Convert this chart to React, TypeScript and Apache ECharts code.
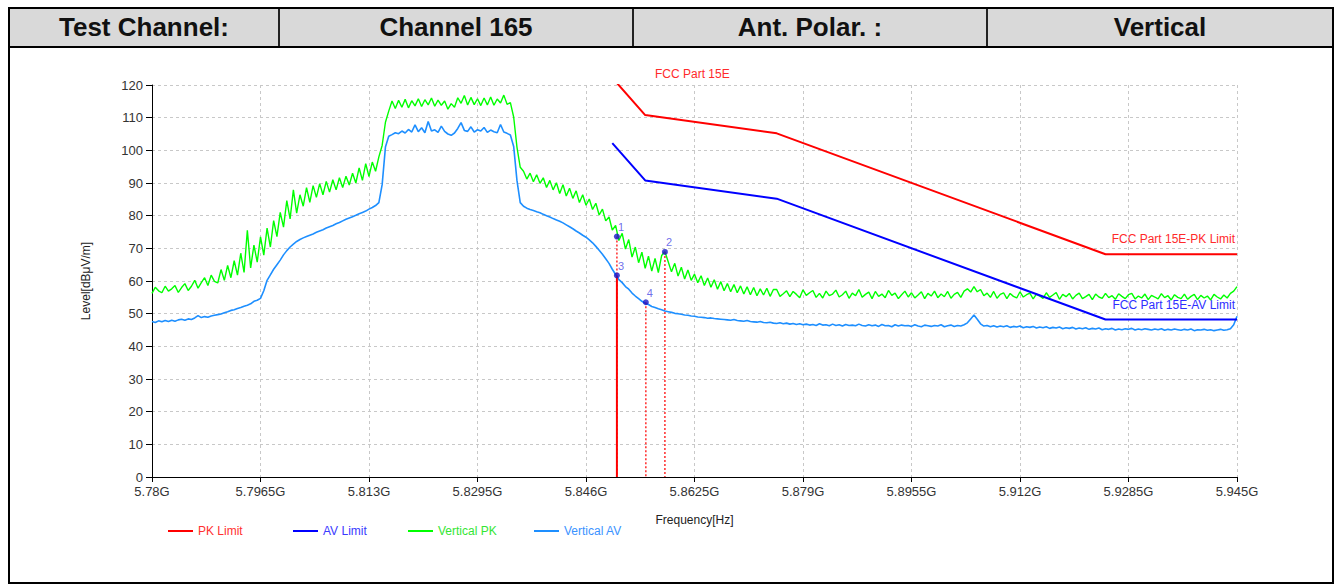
import React, { useEffect, useRef } from "react";
import * as echarts from "echarts";

const headerCells = ["Test Channel:", "Channel 165", "Ant. Polar. :", "Vertical"];
const headerWidths = [268, 354, 354, 346];

const xTickLabels = ["5.78G", "5.7965G", "5.813G", "5.8295G", "5.846G", "5.8625G", "5.879G", "5.8955G", "5.912G", "5.9285G", "5.945G"];
const axisStartGHz = 5.78;
const traceStepMHz = 0.5;

const verticalPK = [
  56.2, 58.1, 57.0, 56.4, 58.4, 56.9, 57.6, 58.6, 56.5, 58.0,
  59.2, 57.1, 58.4, 60.2, 57.8, 59.5, 61.0, 58.6, 61.8, 59.9,
  59.4, 63.5, 60.2, 64.8, 61.0, 66.2, 61.8, 68.5, 62.6, 75.5,
  64.0, 71.0, 65.8, 73.5, 67.9, 76.2, 70.4, 78.5, 73.6, 81.0,
  76.5, 84.6, 79.0, 87.9, 80.8, 86.4, 82.9, 88.6, 84.1, 89.2,
  85.6, 89.8, 86.4, 90.5, 87.2, 91.0, 87.9, 91.6, 88.6, 92.1,
  89.4, 93.0, 90.0, 94.6, 90.8, 95.9, 92.0, 96.4, 93.6, 98.0,
  101.5, 108.6, 112.0, 115.1, 112.8, 115.3, 113.2, 115.6, 113.0, 115.2,
  113.6, 115.8, 113.4, 115.5, 113.9, 116.0, 113.5, 115.4, 113.8, 115.1,
  112.6, 114.3, 113.2, 116.1, 114.4, 116.8, 113.9, 116.2, 114.0, 115.8,
  113.7, 116.0, 113.9, 116.3, 113.8, 115.7, 114.5, 116.9, 114.1, 114.6,
  110.2, 101.0, 94.8, 93.6, 91.2, 93.0, 90.4, 92.5, 89.9, 91.6,
  88.6, 90.8, 87.9, 90.1, 86.8, 89.5, 86.0, 88.4, 85.3, 87.6,
  84.0, 86.4, 83.2, 85.1, 81.9, 83.8, 80.2, 82.0, 78.4, 79.6,
  75.6, 77.0, 72.4, 74.6, 69.8, 72.7, 67.3, 70.4, 65.6, 68.8,
  63.9, 67.6, 63.0, 66.9, 62.6, 67.8, 69.0, 65.9, 62.8, 65.4,
  61.5, 64.2, 60.6, 63.4, 60.2, 62.1, 59.5, 61.6, 58.6, 60.9,
  58.1, 60.4, 57.5, 59.8, 57.0, 59.2, 56.7, 58.9, 56.4, 58.5,
  56.0, 58.2, 55.8, 58.0, 55.5, 57.6, 55.7, 57.8, 55.3, 57.4,
  57.4, 55.3, 56.1, 57.0, 55.2, 56.8, 55.9, 54.9, 57.3, 55.6,
  56.4, 57.1, 55.0, 56.2, 54.8, 56.9, 55.5, 56.0, 57.2, 55.1,
  55.8, 56.9, 54.7, 56.3, 55.5, 57.4, 55.0, 55.9, 56.6, 54.6,
  56.8, 55.3, 56.0, 54.9, 57.1, 55.6, 56.3, 54.6, 55.8, 56.9,
  55.1, 56.4, 54.8, 55.7, 56.7, 54.6, 56.2, 55.4, 56.9, 54.9,
  56.0, 55.2, 56.8, 54.7, 55.9, 56.5, 55.0, 56.9, 57.6, 56.6,
  58.3, 56.7, 57.4, 55.5, 56.3, 55.0, 56.8, 54.7, 55.9, 56.4,
  54.6, 56.2, 55.3, 54.8, 56.7, 55.1, 55.8, 56.3, 54.5, 56.0,
  55.4, 54.7, 56.4, 55.0, 55.7, 56.5, 54.4, 55.9, 55.2, 56.2,
  54.5, 55.6, 56.3, 54.6, 55.2, 55.9, 54.3, 56.0, 55.1, 54.7,
  56.2, 54.9, 55.5, 54.4, 56.1, 55.3, 54.6, 55.8, 56.2, 54.5,
  55.4, 54.8, 56.0, 54.3, 55.6, 55.1, 54.5, 56.1, 54.9, 55.5,
  54.2, 55.8, 55.0, 54.6, 56.0, 54.4, 55.3, 55.9, 54.3, 55.6,
  54.8, 55.4, 54.2, 55.9, 55.1, 54.5, 55.7, 54.8, 56.2, 56.9,
  58.3,
];

const verticalAV = [
  47.6, 47.3, 47.8, 47.5, 47.9, 47.6, 48.0, 47.7, 48.1, 48.3,
  48.0, 48.4, 48.2, 48.7, 49.4, 48.8, 49.1, 48.9, 49.3, 49.5,
  49.7, 49.9, 50.3, 50.6, 51.0, 51.2, 51.6, 51.9, 52.3, 52.6,
  53.0, 53.8, 54.1, 54.7, 57.0, 60.2, 61.9, 63.6, 65.0, 66.4,
  68.0, 69.3, 70.4, 71.3, 72.1, 72.7, 73.2, 73.6, 74.0, 74.4,
  74.9, 75.3, 75.7, 76.2, 76.6, 77.0, 77.5, 77.9, 78.4, 78.9,
  79.3, 79.7, 80.1, 80.6, 81.0, 81.4, 82.0, 82.5, 83.1, 84.0,
  89.5, 101.0, 104.3, 104.8, 105.4, 105.1, 105.9, 105.3, 106.4, 105.6,
  107.8, 105.7, 106.9, 105.4, 108.8, 105.9, 106.3, 105.5, 107.4, 105.8,
  105.0, 104.6, 105.3, 106.7, 108.5, 106.1, 105.8, 107.2, 105.6, 106.3,
  105.9, 107.0, 105.5, 106.2, 105.7, 105.4, 107.9, 105.6, 105.2, 104.7,
  101.2, 90.8, 84.0, 82.9, 82.3, 81.9, 81.6, 81.2, 80.9, 80.4,
  80.0, 79.6, 79.1, 78.7, 78.3, 77.8, 77.2, 76.6, 76.0, 75.3,
  74.7, 74.0, 73.4, 72.6, 71.7, 70.6, 69.4, 68.2, 66.8, 65.4,
  63.6, 62.0, 60.4, 59.5, 58.3, 57.5, 56.3, 55.4, 54.6, 53.8,
  53.2, 52.8, 52.2, 51.9, 51.5, 51.2, 50.8, 50.6, 50.4, 50.1,
  50.0, 49.8, 49.6, 49.5, 49.3, 49.2, 49.0, 48.9, 48.8, 48.6,
  48.7, 48.5, 48.4, 48.3, 48.2, 48.1, 48.0, 48.2, 47.9, 47.8,
  47.7, 47.9, 47.6, 47.5, 47.4, 47.6, 47.3, 47.2, 47.4, 47.1,
  47.0, 47.2, 46.9, 47.1, 46.8, 47.0, 46.7, 46.9, 46.6, 46.8,
  46.5, 46.7, 46.4, 46.9, 46.5, 46.6, 46.3, 46.8, 46.4, 46.6,
  46.2, 46.7, 46.4, 46.5, 46.3, 46.8, 46.4, 46.2, 46.6, 46.3,
  46.5, 46.1, 46.7, 46.3, 46.4, 46.0, 46.6, 46.2, 46.5, 46.3,
  46.4, 46.1, 46.6, 46.2, 46.0, 46.5, 46.3, 46.1, 46.4, 46.2,
  46.6, 46.0, 46.3, 46.5, 46.1, 46.4, 46.2, 46.6, 47.2, 48.4,
  49.6, 48.3, 46.9, 46.2, 46.4, 46.0, 46.3, 45.9, 46.2, 46.0,
  46.3, 45.8, 46.1, 45.9, 46.2, 45.7, 46.0, 45.8, 46.1, 45.6,
  45.9, 45.7, 46.0, 45.5, 45.8, 45.6, 45.9, 45.4, 45.7, 45.5,
  45.8, 45.3, 45.6, 45.4, 45.7, 45.2, 45.5, 45.3, 45.6, 45.1,
  45.4, 45.2, 45.5, 45.0, 45.3, 45.1, 45.4, 45.2, 45.5, 45.0,
  45.3, 45.1, 45.4, 45.2, 45.0, 45.3, 45.1, 45.4, 44.9, 45.2,
  45.0, 45.3, 45.1, 44.9, 45.2, 45.0, 45.3, 44.8, 45.1, 45.0,
  45.2, 44.9, 45.1, 44.8, 45.0, 45.2, 44.9, 45.1, 45.4, 46.6,
  49.2,
];

const limitFreqGHz = [5.85, 5.855, 5.875, 5.925, 5.945];
const pkLimit = [122.2, 110.8, 105.2, 68.2, 68.2];
const avLimit = [102.2, 90.8, 85.2, 48.2, 48.2];

const markerIds = ["1", "2", "3", "4"];
const markerFreqGHz = [5.8507, 5.858, 5.8507, 5.8551];
const markerLevel = [73.6, 68.9, 61.7, 53.5];
const markerLineSolid = [false, false, true, false];

const FONT = '"Liberation Sans", Arial, Helvetica, sans-serif';

const toX = (g: number) => Math.round((g - axisStartGHz) * 1e6) / 1000;

function buildOption(): any {
  const pkData = verticalPK.map((v, i) => [i * traceStepMHz, v]);
  const avData = verticalAV.map((v, i) => [i * traceStepMHz, v]);
  const pkLimData = limitFreqGHz.map((f, i) => [toX(f), pkLimit[i]]);
  const avLimData = limitFreqGHz.map((f, i) => [toX(f), avLimit[i]]);

  const markerLine = (i: number) => ({
    type: "line",
    silent: true,
    symbol: "none",
    z: markerLineSolid[i] ? 5 : 4,
    data: [
      [toX(markerFreqGHz[i]), markerLevel[i]],
      [toX(markerFreqGHz[i]), 0],
    ],
    lineStyle: markerLineSolid[i]
      ? { color: "#ff0000", width: 2 }
      : { color: "#ff2a2a", width: 1.5, type: [2, 2] },
  });
  const idx = markerIds.map((_, i) => i);
  const dotted = idx.filter((i) => !markerLineSolid[i]).map(markerLine);
  const solid = idx.filter((i) => markerLineSolid[i]).map(markerLine);

  const legendBase = (name: string, left: number, color: string) => ({
    data: [name],
    left,
    top: 520,
    icon: "rect",
    itemWidth: 25,
    itemHeight: 2,
    selectedMode: false,
    textStyle: { color, fontSize: 12, fontFamily: FONT },
  });

  return {
    animation: false,
    backgroundColor: "transparent",
    textStyle: { fontFamily: FONT },
    grid: { left: 152, top: 85, width: 1085, height: 392 },
    legend: [
      legendBase("PK Limit", 163, "#ff3030"),
      legendBase("AV Limit", 288, "#3a3aff"),
      legendBase("Vertical PK", 403, "#33e633"),
      legendBase("Vertical AV", 529, "#3b93ff"),
    ],
    xAxis: {
      type: "value",
      min: 0,
      max: 165,
      interval: 16.5,
      name: "Frequency[Hz]",
      nameLocation: "middle",
      nameGap: 37,
      nameTextStyle: { color: "#222", fontSize: 12, fontFamily: FONT },
      axisLine: { lineStyle: { color: "#000", width: 1 } },
      axisTick: { length: 5, lineStyle: { color: "#000" } },
      axisLabel: {
        color: "#333",
        fontSize: 13,
        margin: 8,
        fontFamily: FONT,
        formatter: (v: number) => xTickLabels[Math.round(v / 16.5)] ?? "",
      },
      splitLine: { show: true, lineStyle: { color: "#c8c8c8", type: [3, 3], width: 1 } },
    },
    yAxis: {
      type: "value",
      min: 0,
      max: 120,
      interval: 10,
      name: "Level[dBμV/m]",
      nameLocation: "middle",
      nameGap: 60,
      nameTextStyle: { color: "#222", fontSize: 12, fontFamily: FONT },
      axisLine: { show: true, lineStyle: { color: "#000", width: 1 } },
      axisTick: { show: true, length: 6, lineStyle: { color: "#000" } },
      axisLabel: { color: "#333", fontSize: 13, margin: 9, fontFamily: FONT },
      splitLine: { show: true, lineStyle: { color: "#c8c8c8", type: [3, 3], width: 1 } },
    },
    graphic: [
      {
        type: "text",
        left: 655,
        top: 68,
        style: { text: "FCC Part 15E", fill: "#ff2a2a", font: `12px ${FONT}` },
      },
      {
        type: "text",
        right: 99,
        top: 233,
        style: { text: "FCC Part 15E-PK Limit", fill: "#ff2a2a", font: `12px ${FONT}` },
      },
      {
        type: "text",
        right: 99,
        top: 299,
        style: { text: "FCC Part 15E-AV Limit", fill: "#2e2eff", font: `12px ${FONT}` },
      },
    ],
    series: [
      {
        name: "Vertical PK",
        type: "line",
        data: pkData,
        symbol: "none",
        showSymbol: false,
        z: 2,
        color: "#00ff00",
        lineStyle: { color: "#00ff00", width: 1.4 },
      },
      {
        name: "Vertical AV",
        type: "line",
        data: avData,
        symbol: "none",
        showSymbol: false,
        z: 2,
        color: "#1e8fff",
        lineStyle: { color: "#1e8fff", width: 1.6 },
      },
      {
        name: "PK Limit",
        type: "line",
        data: pkLimData,
        symbol: "none",
        showSymbol: false,
        clip: true,
        z: 3,
        color: "#ff0000",
        lineStyle: { color: "#ff0000", width: 2 },
      },
      {
        name: "AV Limit",
        type: "line",
        data: avLimData,
        symbol: "none",
        showSymbol: false,
        clip: true,
        z: 3,
        color: "#0000ff",
        lineStyle: { color: "#0000ff", width: 2 },
      },
      ...dotted,
      ...solid,
      {
        type: "scatter",
        silent: true,
        z: 6,
        symbol: "circle",
        symbolSize: 6,
        itemStyle: { color: "#1717c9" },
        data: markerIds.map((id, i) => ({
          value: [toX(markerFreqGHz[i]), markerLevel[i]],
          name: id,
        })),
        label: {
          show: true,
          position: [4, -12],
          formatter: (p: any) => p.name,
          color: "#4a4ae6",
          fontSize: 11,
          fontFamily: FONT,
        },
      },
    ],
  };
}

export default function App() {
  const ref = useRef<HTMLDivElement>(null);
  useEffect(() => {
    if (!ref.current) return;
    const chart = echarts.init(ref.current, undefined, { renderer: "svg" });
    chart.setOption(buildOption());
    return () => chart.dispose();
  }, []);

  return (
    <div
      style={{
        position: "fixed",
        left: 0,
        top: 0,
        width: 1334,
        height: 586,
        overflow: "hidden",
        background: "#fff",
        fontFamily: FONT,
      }}
    >
      <div
        style={{
          position: "absolute",
          left: 8,
          top: 7,
          width: 1326,
          height: 577,
          border: "2px solid #000",
          boxSizing: "border-box",
        }}
      />
      <div
        style={{
          position: "absolute",
          left: 10,
          top: 9,
          width: 1322,
          height: 37,
          background: "#d9d9d9",
          borderBottom: "2px solid #000",
          display: "flex",
        }}
      >
        {headerCells.map((t, i) => (
          <div
            key={t}
            style={{
              width: headerWidths[i],
              flex: i === headerCells.length - 1 ? 1 : "none",
              boxSizing: "border-box",
              borderLeft: i === 0 ? "none" : "2px solid #222",
              textAlign: "center",
              lineHeight: "37px",
              fontSize: 26,
              fontWeight: "bold",
              color: "#111",
              whiteSpace: "nowrap",
            }}
          >
            {t}
          </div>
        ))}
      </div>
      <div ref={ref} style={{ position: "absolute", left: 0, top: 0, width: 1334, height: 586 }} />
    </div>
  );
}
